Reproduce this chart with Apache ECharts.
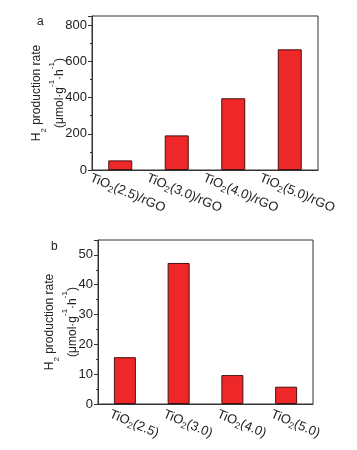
<!DOCTYPE html>
<html>
<head>
<meta charset="utf-8">
<script src="https://cdn.jsdelivr.net/npm/echarts@6/dist/echarts.min.js"></script>
<style>
  html, body { margin: 0; padding: 0; background: #fff; }
  #chart { width: 357px; height: 450px; }
</style>
</head>
<body>
<div id="chart"></div>
<script>
// 数据
var catsA = ['TiO2(2.5)/rGO', 'TiO2(3.0)/rGO', 'TiO2(4.0)/rGO', 'TiO2(5.0)/rGO'];
var valsA = [53, 191, 396, 666];
var catsB = ['TiO2(2.5)', 'TiO2(3.0)', 'TiO2(4.0)', 'TiO2(5.0)'];
var valsB = [15.7, 47.3, 9.7, 5.8];

var FONT = '"Liberation Sans", Arial, sans-serif';
var TXT = '#222';
var AXIS = '#333';

// TiO2 -> rich text with subscript 2
function subLabel(v) {
  return '{n|TiO}{s|2}{n|' + v.slice(4) + '}';
}
var labelRich = {
  n: { fontSize: 13, lineHeight: 16, color: TXT, fontFamily: FONT },
  s: { fontSize: 9, lineHeight: 9, verticalAlign: 'bottom', color: TXT, fontFamily: FONT }
};
var yName = '{n|H}{s|2}{n| production rate}\n{n|(μmol·g}{p|-1}{n|·h}{p|-1}{n|)}';
var nameRich = {
  n: { fontSize: 12, lineHeight: 23, color: TXT, fontFamily: FONT },
  s: { fontSize: 8, lineHeight: 16, verticalAlign: 'bottom', color: TXT, fontFamily: FONT },
  p: { fontSize: 8, lineHeight: 15, verticalAlign: 'top', color: TXT, fontFamily: FONT }
};

function xAxisOf(idx, cats, pad, margin) {
  return {
    type: 'category',
    gridIndex: idx,
    data: cats,
    axisLine: { lineStyle: { color: AXIS, width: 1 } },
    axisTick: { show: false },
    axisLabel: {
      interval: 0,
      rotate: -23,
      align: 'center',
      verticalAlign: 'middle',
      margin: margin,
      padding: [0, 0, 0, pad],
      formatter: subLabel,
      rich: labelRich
    }
  };
}

function yAxisOf(idx, max, step, gap) {
  return {
    type: 'value',
    gridIndex: idx,
    min: 0,
    max: max,
    interval: step,
    name: yName,
    nameLocation: 'middle',
    nameRotate: 90,
    nameGap: gap,
    nameMoveOverlap: false,
    nameTextStyle: { rich: nameRich },
    axisLine: { show: true, lineStyle: { color: AXIS, width: 1 } },
    axisTick: { show: true, length: 4, lineStyle: { color: AXIS } },
    minorTick: { show: true, splitNumber: 2, length: 2, lineStyle: { color: AXIS } },
    splitLine: { show: false },
    axisLabel: {
      showMaxLabel: false,
      margin: 5,
      fontSize: 13,
      color: TXT,
      fontFamily: FONT
    }
  };
}

var barStyle = {
  color: '#ee2828',
  borderColor: '#4a1010',
  borderWidth: 1
};

var option = {
  animation: false,
  backgroundColor: '#fff',
  title: [
    { text: 'a', left: 32, top: 11, textStyle: { fontSize: 12, fontWeight: 'normal', color: TXT, fontFamily: FONT } },
    { text: 'b', left: 46, top: 236, textStyle: { fontSize: 12, fontWeight: 'normal', color: TXT, fontFamily: FONT } }
  ],
  grid: [
    { left: 92, right: 39, top: 16, bottom: 280, show: true, borderColor: AXIS, borderWidth: 1, backgroundColor: 'transparent' },
    { left: 98, right: 44, top: 240, bottom: 46, show: true, borderColor: AXIS, borderWidth: 1, backgroundColor: 'transparent' }
  ],
  xAxis: [
    xAxisOf(0, catsA, 16, 20),
    xAxisOf(1, catsB, 20, 16)
  ],
  yAxis: [
    yAxisOf(0, 850, 200, 21),
    yAxisOf(1, 55, 10, 14)
  ],
  series: [
    { type: 'bar', xAxisIndex: 0, yAxisIndex: 0, data: valsA, barWidth: 24, itemStyle: barStyle },
    { type: 'bar', xAxisIndex: 1, yAxisIndex: 1, data: valsB, barWidth: 22, itemStyle: barStyle }
  ]
};

var chart = echarts.init(document.getElementById('chart'));
chart.setOption(option);
</script>
</body>
</html>
